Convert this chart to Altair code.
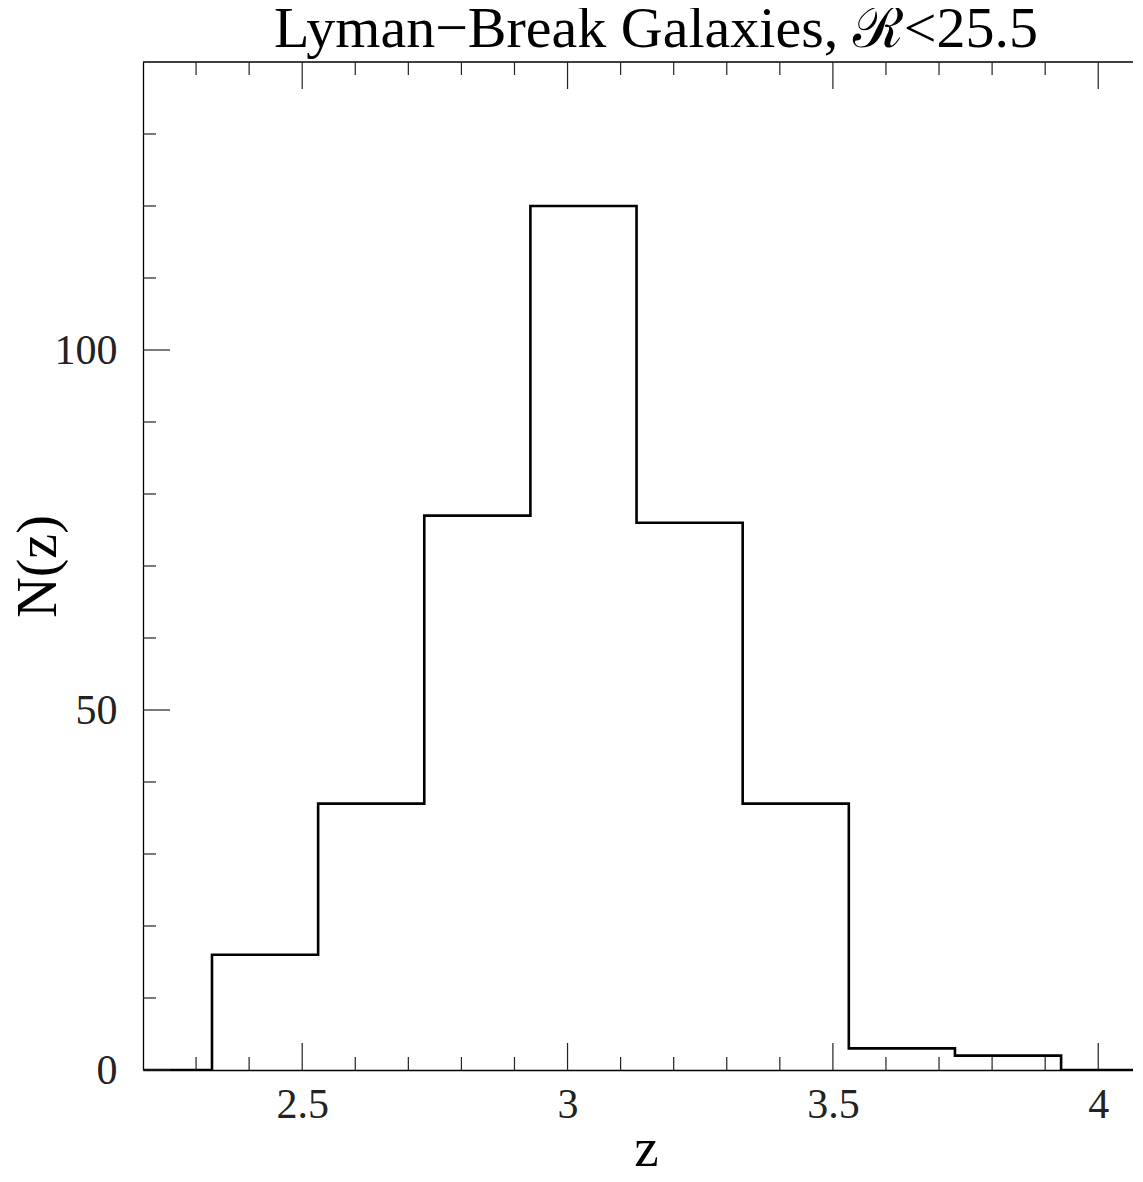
import altair as alt
import pandas as pd

# Histogram data
bin_edges = [2.2, 2.33, 2.53, 2.73, 2.93, 3.13, 3.33, 3.53, 3.73, 3.93, 4.0655]
counts = [0, 16, 37, 77, 120, 76, 37, 3, 2, 0, 0]

x_major = [2.5, 3.0, 3.5, 4.0]
x_minor = [2.3, 2.4, 2.6, 2.7, 2.8, 2.9, 3.1, 3.2, 3.3, 3.4, 3.6, 3.7, 3.8, 3.9]
y_major = [0, 50, 100]
y_minor = [10, 20, 30, 40, 60, 70, 80, 90, 110, 120, 130]

X_DOMAIN = [2.2, 4.0655]
Y_DOMAIN = [0, 140]
W, H = 990, 1008
MAJ, MIN = 27, 13
FONT = "Liberation Serif"

hist = pd.DataFrame({"z": bin_edges, "n": counts})
xs = alt.Scale(domain=X_DOMAIN, nice=False, zero=False)
ys = alt.Scale(domain=Y_DOMAIN, nice=False)

line = alt.Chart(hist).mark_line(
    interpolate="step-after", color="black", strokeWidth=2.6, clip=True
).encode(
    x=alt.X("z:Q", scale=xs, title="z",
            axis=alt.Axis(values=x_major, ticks=False, domain=True, domainColor="black",
                          domainWidth=1.3, labelFont=FONT, labelFontSize=42,
                          labelColor="#222", labelPadding=14, grid=False,
                          titleFont=FONT, titleFontSize=55, titleFontWeight="normal",
                          titleColor="black", titleY=95, titleX=503,
                          titleBaseline="alphabetic",
                          labelExpr="datum.value == 3 || datum.value == 4 ? format(datum.value, 'd') : format(datum.value, '.1f')")),
    y=alt.Y("n:Q", scale=ys, title="N(z)",
            axis=alt.Axis(values=y_major, ticks=False, domain=True, domainColor="black",
                          domainWidth=1.3, labelFont=FONT, labelFontSize=42,
                          labelColor="#222", labelPadding=26, grid=False,
                          titleFont=FONT, titleFontSize=56, titleFontWeight="normal",
                          titleColor="black", titleX=-105, titleY=H / 2,
                          titleBaseline="middle", titleAlign="center")),
)

def xticks(vals, length):
    d = pd.DataFrame({"t": vals})
    bottom = alt.Chart(d).mark_rule(color="#222", strokeWidth=1.2).encode(
        x=alt.X("t:Q", scale=xs), y=alt.value(H), y2=alt.value(H - length))
    top = alt.Chart(d).mark_rule(color="#222", strokeWidth=1.2).encode(
        x=alt.X("t:Q", scale=xs), y=alt.value(0), y2=alt.value(length))
    return [bottom, top]

def yticks(vals, length):
    d = pd.DataFrame({"t": vals})
    return [alt.Chart(d).mark_rule(color="#222", strokeWidth=1.2).encode(
        y=alt.Y("t:Q", scale=ys), x=alt.value(0), x2=alt.value(length))]

top_border = alt.Chart(pd.DataFrame({"a": [0]})).mark_rule(color="black", strokeWidth=1.3).encode(
    x=alt.value(0), x2=alt.value(W), y=alt.value(0))

layers = [line, top_border] + xticks(x_major, MAJ) + xticks(x_minor, MIN) + yticks(y_major, MAJ) + yticks(y_minor, MIN)

chart = alt.layer(*layers).properties(
    width=W, height=H,
    title=alt.Title("Lyman−Break Galaxies, ℛ<25.5", font=FONT, fontSize=58,
                    fontWeight="normal", color="black", offset=2, dx=18),
    autosize=alt.AutoSizeParams(type="none"),
    padding={"left": 135, "top": 54, "right": 0, "bottom": 96},
).configure_view(stroke=None)

chart.save("out.html", embed_options={"renderer": "svg", "actions": False})
